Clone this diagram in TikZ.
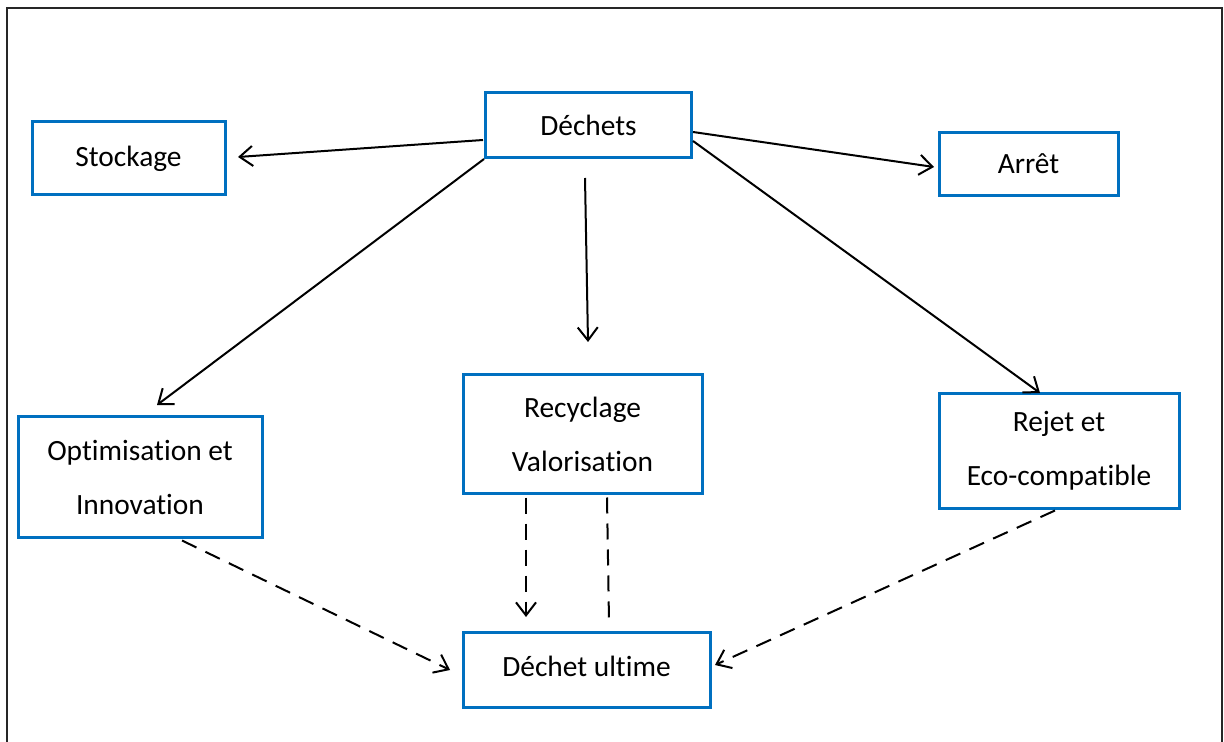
\documentclass[tikz,border=0pt]{standalone}
\usepackage{fontspec}
\setmainfont{Carlito}[Ligatures=NoCommon]
\usetikzlibrary{arrows.meta,calc}
\definecolor{boxblue}{HTML}{0070C0}
\begin{document}
\begin{tikzpicture}[x=0.5pt,y=-0.5pt,
  box/.style={draw=boxblue,line width=1.5pt,rectangle,inner sep=0pt,align=center,
    font=\fontsize{14.7}{27}\selectfont},
  arr/.style={line width=1pt,-{Straight Barb[length=6.5pt,width=10pt,line width=1pt]}},
  dsh/.style={line width=1pt,dash pattern=on 8pt off 5pt},
  darr/.style={dsh,-{Straight Barb[length=6.5pt,width=10pt,line width=1pt]}}]
\useasboundingbox (0,0) rectangle (1224,742);
\begin{scope}
\clip (0,0) rectangle (1224,742);
\draw[line width=1pt,black!85] (7,790) -- (7,8) -- (1222,8) -- (1222,790);
\end{scope}
\node[box,minimum width=103pt,minimum height=32.5pt] (dechets) at (588.5,125) {Déchets};
\node[box,minimum width=96.5pt,minimum height=36.5pt] (stockage) at (128.5,158.5) {\raisebox{2pt}{Stockage}};
\node[box,minimum width=89.5pt,minimum height=31.5pt] (arret) at (1028.5,164) {Arrêt};
\node[box,minimum width=122pt,minimum height=60pt] (opt) at (140,477) {Optimisation et\\Innovation};
\node[box,minimum width=119.5pt,minimum height=59pt] (recyc) at (582.5,434) {Recyclage\\Valorisation};
\node[box,minimum width=123.5pt,minimum height=37.5pt] (ultime) at (586.5,669.5) {\raisebox{3pt}{Déchet ultime}};
\node[box,minimum width=120pt,minimum height=57pt] (rejet) at (1059,451) {Rejet et\\Eco-compatible};
% free ends
\coordinate (tS) at (238,157);
\coordinate (tA) at (934,167);
\coordinate (tO) at (157,405);
\coordinate (sR) at (585,178);
\coordinate (tR) at (588,342);
\coordinate (tJ) at (1040,393);
\coordinate (tU1) at (450,670);
\coordinate (tU2) at (526,617);
\coordinate (eU3) at (609,622);
\coordinate (tU4) at (715,665);
\draw[arr] ($(dechets.west)+(-1,15)$) -- (tS);
\draw[arr] ($(dechets.east)+(0,7)$) -- (tA);
\draw[arr] (dechets.south west) -- (tO);
\draw[arr] (sR) -- (tR);
\draw[arr] ($(dechets.east)+(0,16)$) -- (tJ);
\draw[darr] ($(opt.south)+(42,2)$) -- (tU1);
\draw[darr] ($(recyc.south)+(-56.5,3)$) -- (tU2);
\draw[dsh] ($(recyc.south)+(24.5,3)$) -- (eU3);
\draw[darr] ($(rejet.south)+(-4,1)$) -- (tU4);
\end{tikzpicture}
\end{document}
